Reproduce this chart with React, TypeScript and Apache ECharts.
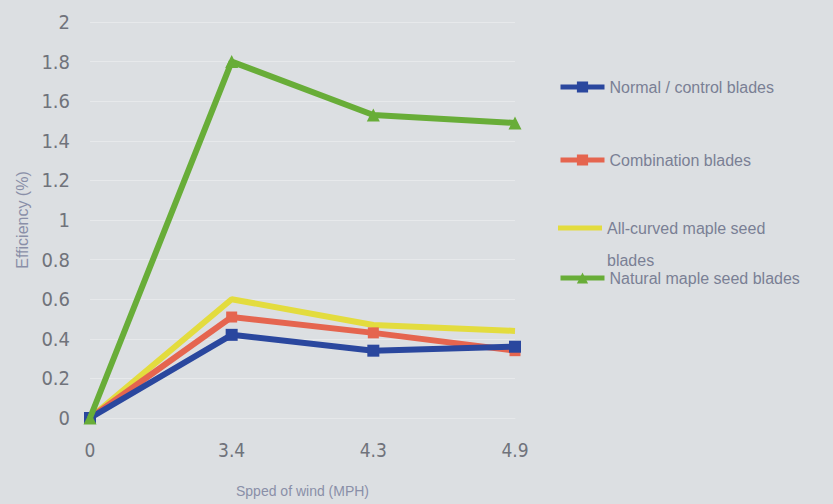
import React, { useEffect, useRef } from "react";
import * as echarts from "echarts";

const categories = ["0", "3.4", "4.3", "4.9"];
const normalBlades = [0, 0.42, 0.34, 0.36];
const combinationBlades = [0, 0.51, 0.43, 0.34];
const allCurvedBlades = [0, 0.6, 0.47, 0.44];
const naturalBlades = [0, 1.8, 1.53, 1.49];
const yTicks = { min: 0, max: 2, interval: 0.2 };

const seriesNames = [
  "Normal / control blades",
  "Combination blades",
  "All-curved maple seed blades",
  "Natural maple seed blades",
];

const TICKFONT = "'DejaVu Sans Condensed', 'Liberation Sans Narrow', sans-serif";
const TEXTFONT = "'Liberation Sans', Arial, sans-serif";

export default function App() {
  const ref = useRef<HTMLDivElement>(null);
  useEffect(() => {
    document.body.style.margin = "0";
    document.body.style.background = "#dcdfe2";
    const chart = echarts.init(ref.current!, undefined, { renderer: "svg" });
    const legendText = { color: "#7a7f95", fontSize: 16, fontFamily: TEXTFONT };
    const mkLegend = (name: string, top: number, extra: any = {}) => {
      const lg: any = {
        data: [name],
        left: 553,
        top,
        itemWidth: 44,
        itemHeight: extra.itemHeight ?? 14,
        lineStyle: { width: 5 },
        textStyle: { ...legendText, ...(extra.textStyle || {}) },
        selectedMode: false,
      };
      if (extra.icon) lg.icon = extra.icon;
      if (extra.formatter) lg.formatter = extra.formatter;
      return lg;
    };
    chart.setOption({
      animation: false,
      backgroundColor: "#dcdfe2",
      grid: {
        left: 90,
        right: 318,
        top: 22,
        bottom: 86,
        containLabel: false,
        outerBoundsMode: "none",
      },
      legend: [
        mkLegend(seriesNames[0], 74),
        mkLegend(seriesNames[1], 147),
        mkLegend(seriesNames[2], 175, {
          formatter: () => "\nAll-curved maple seed\nblades",
          textStyle: { lineHeight: 32 },
          icon: "rect",
          itemHeight: 5,
        }),
        mkLegend(seriesNames[3], 265),
      ],
      xAxis: {
        type: "category",
        data: categories,
        boundaryGap: false,
        name: "Spped of wind (MPH)",
        nameLocation: "middle",
        nameGap: 66,
        nameTextStyle: { color: "#8a8fa8", fontSize: 14, fontFamily: TEXTFONT },
        axisLine: { show: true, lineStyle: { color: "#e6e8ea", width: 1 } },
        axisTick: { show: false },
        axisLabel: { color: "#70737b", fontSize: 19, fontFamily: TICKFONT, margin: 22 },
        splitLine: { show: false },
      },
      yAxis: {
        type: "value",
        min: yTicks.min,
        max: yTicks.max,
        interval: yTicks.interval,
        name: "Efficiency (%)",
        nameLocation: "middle",
        nameGap: 60,
        nameTextStyle: { color: "#8a8fa8", fontSize: 16, fontFamily: TEXTFONT },
        axisLine: { show: false },
        axisTick: { show: false },
        axisLabel: { color: "#70737b", fontSize: 20, fontFamily: TICKFONT, margin: 20 },
        splitLine: { lineStyle: { color: "#e7e9eb", width: 1 } },
      },
      series: [
        {
          name: seriesNames[0],
          type: "line",
          data: normalBlades,
          color: "#2a479e",
          lineStyle: { width: 6 },
          symbol: "rect",
          symbolSize: 12,
          z: 4,
        },
        {
          name: seriesNames[1],
          type: "line",
          data: combinationBlades,
          color: "#e5654f",
          lineStyle: { width: 6 },
          symbol: "rect",
          symbolSize: 11,
          z: 3,
        },
        {
          name: seriesNames[2],
          type: "line",
          data: allCurvedBlades,
          color: "#e3dc3e",
          lineStyle: { width: 6 },
          symbol: "none",
          z: 2,
        },
        {
          name: seriesNames[3],
          type: "line",
          data: naturalBlades,
          color: "#68ad38",
          lineStyle: { width: 6 },
          symbol: "triangle",
          symbolSize: 13,
          z: 5,
        },
      ],
    });
    return () => chart.dispose();
  }, []);
  return <div ref={ref} style={{ width: 833, height: 504 }} />;
}
